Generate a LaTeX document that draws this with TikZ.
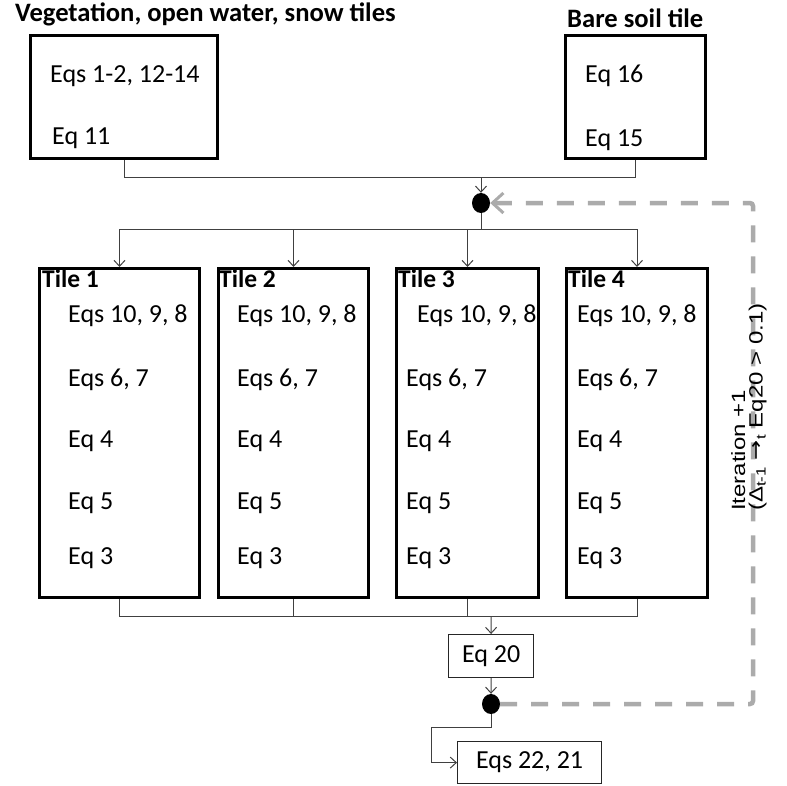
\documentclass[tikz,border=0pt]{standalone}
\usepackage{fontspec}
\setmainfont{Carlito}
\newfontfamily\arialf{Liberation Sans}
\newfontfamily\dejavu{DejaVu Sans}
\usetikzlibrary{arrows.meta,shapes.geometric}
\begin{document}
\begin{tikzpicture}[x=1pt,y=-1pt,
 bigbox/.style={draw=black,line width=3pt,anchor=north west,inner sep=0},
 smallbox/.style={draw=black!85,line width=1.2pt,anchor=north west,inner sep=0,font=\fontsize{26}{30}\selectfont},
 eqtext/.style={inner sep=0,anchor=base west,font=\fontsize{26}{30}\selectfont},
 ttl/.style={inner sep=0,anchor=base west,font=\fontsize{25.5}{29}\selectfont\bfseries},
 bigttl/.style={inner sep=0,anchor=base west,font=\fontsize{26.6}{30}\selectfont\bfseries},
 conn/.style={draw=black!75,line width=1pt},
 tip/.style={-{Straight Barb[length=6pt,width=11pt]}},
 dotnode/.style={ellipse,fill=black,inner sep=0,minimum width=18pt,minimum height=20pt},
 dashline/.style={draw=black!33,line width=4.5pt,dash pattern=on 17pt off 14pt,rounded corners=3pt},
 graytip/.style={-{Straight Barb[length=11pt,width=20pt,line width=3pt]}}
]
\useasboundingbox (0,0) rectangle (787,785);

% top boxes
\node[bigttl] (tltitle) at (15,21) {Vegetation, open water, snow tiles};
\node[bigbox,minimum width=187pt,minimum height=123pt] (tl) at (29,34) {};
\node[eqtext] (tl1) at (50,82) {Eqs 1-2, 12-14};
\node[eqtext] (tl2) at (52,144) {Eq 11};

\node[bigttl] (trtitle) at (567,27) {Bare soil tile};
\node[bigbox,minimum width=140pt,minimum height=123pt] (tr) at (564,34) {};
\node[eqtext] (tr1) at (585,82) {Eq 16};
\node[eqtext] (tr2) at (585,146) {Eq 15};

% tiles
\foreach \n/\x/\w/\tx/\ax/\fx in {1/38/160/42/68/68, 2/217/150/219/237/237, 3/395/142/398/406/417, 4/565/141/568/577/577}
{
  \node[bigbox,minimum width=\w pt,minimum height=329pt] (t\n) at (\x,267) {};
  \node[ttl] (t\n title) at (\tx,287) {Tile \n};
  \node[eqtext] (t\n e1) at (\fx,322) {Eqs 10, 9, 8};
  \node[eqtext] (t\n e2) at (\ax,386) {Eqs 6, 7};
  \node[eqtext] (t\n e3) at (\ax,447) {Eq 4};
  \node[eqtext] (t\n e4) at (\ax,509) {Eq 5};
  \node[eqtext] (t\n e5) at (\ax,564) {Eq 3};
}

% dots and small boxes
\node[dotnode] (d1) at (481,203) {};
\node[smallbox,minimum width=85pt,minimum height=43pt] (e20) at (448,634) {Eq 20};
\node[dotnode] (d2) at (491,704) {};
\node[smallbox,minimum width=144pt,minimum height=42pt] (e22) at (457,741) {Eqs 22, 21\hspace{10pt}};

% junction coordinates
\coordinate (j1) at (481,177);
\coordinate (j2) at (481,229);
\coordinate (j3) at (491,616);
\coordinate (k1) at (431,727);
\coordinate (c1) at (753,704);
\coordinate (c2) at (753,203);

% connectors
\draw[conn] (tl.south) |- (j1);
\draw[conn] (tr.south) |- (j1);
\draw[conn,tip] (j1) -- (d1.north);
\draw[conn] (d1.south) -- (j2);
\draw[conn,tip] (j2) -| (t1.north);
\draw[conn,tip] (j2) -| (t2.north);
\draw[conn,tip] (j2) -| (t3.north);
\draw[conn,tip] (j2) -| (t4.north);
\draw[conn] (t1.south) |- (j3);
\draw[conn] (t2.south) |- (j3);
\draw[conn] (t3.south) |- (j3);
\draw[conn] (t4.south) |- (j3);
\draw[conn,tip] (j3) -- (e20.north);
\draw[conn,tip] (e20.south) -- (d2.north);
\draw[conn,tip] (d2.south) |- (k1) |- (e22.west);

% iteration loop
\draw[dashline,graytip] (d2.east) -- (c1) -- (c2) -- (d1.east);

\node[rotate=90,yscale=0.8,anchor=north west,align=left,inner sep=0,font=\arialf\fontsize{24}{23}\selectfont] (lbl) at (731,511)
 {Iteration +1\\[-1pt](Δ\textsubscript{t-1} {\dejavu →}\textsubscript{t} Eq20 > 0.1)};
\end{tikzpicture}
\end{document}
